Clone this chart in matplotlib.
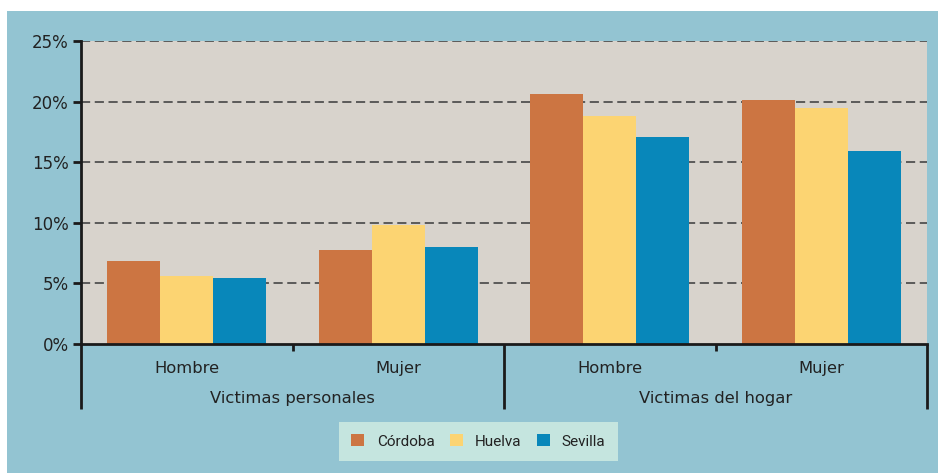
import matplotlib
matplotlib.use("Agg")
import matplotlib.pyplot as plt
from matplotlib.patches import Rectangle, Patch
import numpy as np

categories = ["Hombre", "Mujer", "Hombre", "Mujer"]
groups = ["Victimas personales", "Victimas del hogar"]
series_names = ["Córdoba", "Huelva", "Sevilla"]
cordoba = [6.85, 7.75, 20.6, 20.1]
huelva = [5.6, 9.8, 18.85, 19.45]
sevilla = [5.45, 8.0, 17.05, 15.9]
yticks = [0, 5, 10, 15, 20, 25]
ytick_labels = ["0%", "5%", "10%", "15%", "20%", "25%"]

colors = ["#cc7542", "#fcd472", "#0887ba"]
panel_bg = "#93c4d2"
plot_bg = "#d8d3cc"
legend_bg = "#c5e5df"
txt = "#222222"

W, H = 938, 473
fig = plt.figure(figsize=(W / 100, H / 100), dpi=100)
fig.patch.set_facecolor("white")
fig.add_artist(Rectangle((7 / W, 0), 1 - 7 / W, 1 - 11 / H, transform=fig.transFigure,
                         facecolor=panel_bg, edgecolor="none", zorder=0))

ax_l, ax_r, ax_b, ax_t = 81, 927, 344, 41
ax = fig.add_axes([ax_l / W, (H - ax_b) / H, (ax_r - ax_l) / W, (ax_b - ax_t) / H])
ax.set_facecolor(plot_bg)

x = np.arange(len(categories)) + 0.5
w = 0.25
for i, (vals, name) in enumerate(zip([cordoba, huelva, sevilla], series_names)):
    ax.bar(x + (i - 1) * w, vals, width=w, color=colors[i], label=name, zorder=3)

ax.set_xlim(0, len(categories))
ax.set_ylim(0, 25)
ax.set_yticks(yticks)
ax.set_yticklabels(ytick_labels)
for yv in yticks[1:]:
    ax.axhline(yv, color="#3a3a3a", lw=1.1, ls=(0, (6, 3)), zorder=2)

for s in ["top", "right"]:
    ax.spines[s].set_visible(False)
for s in ["left", "bottom"]:
    ax.spines[s].set_color("#1a1a1a")
    ax.spines[s].set_linewidth(2)
    ax.spines[s].set_zorder(4)
ax.spines["bottom"].set_bounds(0, len(categories))

ax.tick_params(axis="y", length=6, width=2, color="#1a1a1a", labelsize=12, labelcolor=txt, pad=3)
ax.set_xticks([])

# category labels and separators
ph = ax_b - ax_t
for xi, c in zip(x, categories):
    ax.text(xi, -24 / ph * 25, c, ha="center", va="center", fontsize=11.8, color=txt,
            transform=ax.transData, clip_on=False)
for gi, g in enumerate(groups):
    ax.text(1 + gi * 2, -54 / ph * 25, g, ha="center", va="center", fontsize=11.8, color=txt,
            clip_on=False)
# long separators
for xs in [0, 2, 4]:
    ax.plot([xs, xs], [0, -65 / ph * 25], color="#1a1a1a", lw=2, clip_on=False,
            solid_capstyle="butt", zorder=5)
# short ticks
for xs in [1, 3]:
    ax.plot([xs, xs], [0, -7 / ph * 25], color="#1a1a1a", lw=2, clip_on=False,
            solid_capstyle="butt", zorder=5)

handles = [Patch(facecolor=colors[i], edgecolor="none") for i in range(3)]
leg = fig.legend(handles, series_names, ncol=3, loc="center",
                 bbox_to_anchor=((337 + 620) / 2 / W, 1 - 441.5 / H),
                 frameon=True, fancybox=False, facecolor=legend_bg, edgecolor="none",
                 prop={"family": ["Roboto", "DejaVu Sans"], "size": 11},
                 handlelength=0.85, handleheight=0.85, handletextpad=0.8,
                 columnspacing=1.0, borderpad=0.8, framealpha=1)
for t in leg.get_texts():
    t.set_color(txt)

fig.savefig("out.png", dpi=100)
